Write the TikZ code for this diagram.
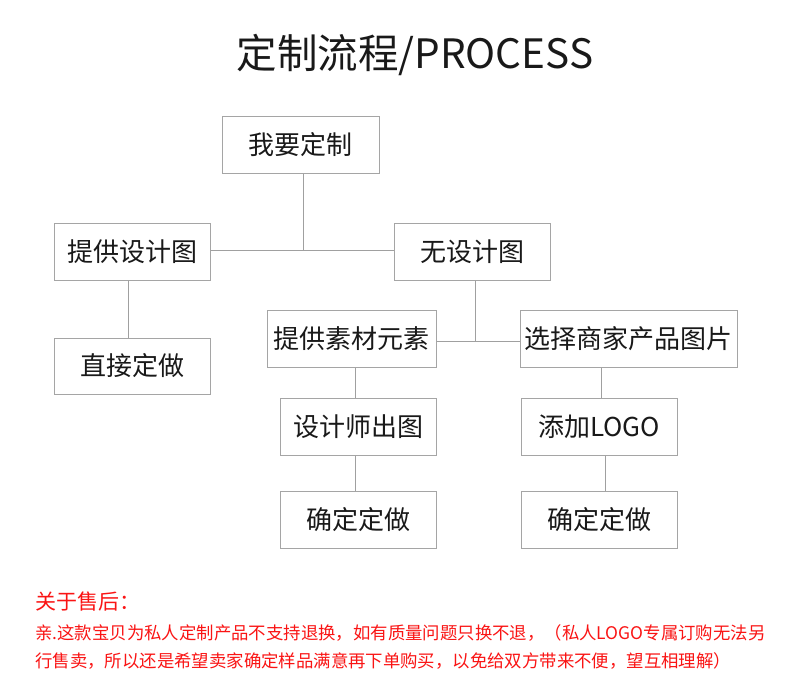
\documentclass[tikz,border=0pt]{standalone}
\usepackage{fontspec}
\newfontfamily\cjk{Noto Sans CJK SC}
\definecolor{boxgray}{RGB}{165,165,165}
\definecolor{linegray}{RGB}{160,160,160}
\definecolor{notered}{RGB}{250,20,20}
\tikzset{
  stepbox/.style={draw=boxgray, line width=1pt, inner sep=0pt, minimum height=57pt,
    minimum width=156pt, font=\cjk\fontsize{26}{30}\selectfont, text=black!90},
  link/.style={draw=linegray, line width=1pt},
  notetext/.style={anchor=west, inner sep=0pt, text=notered}
}
\begin{document}
\begin{tikzpicture}[x=1pt,y=-1pt]
\useasboundingbox[fill=white] (0,0) rectangle (790,688);
% title
\node[inner sep=0pt, font=\cjk\fontsize{40.5}{44}\selectfont, text=black!90] (title) at (415,55) {定制流程/PROCESS};
% boxes
\node[stepbox, minimum width=157pt] (want) at (300.5,144.5) {我要定制};
\node[stepbox] (provide) at (132,251.5) {提供设计图};
\node[stepbox] (none) at (472,251.5) {无设计图};
\node[stepbox, minimum height=56pt] (direct) at (132,366) {直接定做};
\node[stepbox, minimum width=169pt] (material) at (351.5,338.5) {提供素材元素};
\node[stepbox, minimum width=217pt] (choose) at (628.5,338.5) {选择商家产品图片};
\node[stepbox] (designer) at (358,426.5) {设计师出图};
\node[stepbox] (logo) at (599,426.5) {添加LOGO};
\node[stepbox] (confirmL) at (358,519.5) {确定定做};
\node[stepbox] (confirmR) at (599,519.5) {确定定做};
% junctions
\coordinate (j1) at (303,250);
\coordinate (j2) at (475,341);
\coordinate (v1) at (128,0);
\coordinate (v2) at (355.5,0);
\coordinate (v3) at (601,0);
\coordinate (v4) at (605,0);
% connectors
\draw[link] (want.south -| j1) -- (j1);
\draw[link] (provide.east |- j1) -- (none.west |- j1);
\draw[link] (provide.south -| v1) -- (direct.north -| v1);
\draw[link] (none.south -| j2) -- (j2);
\draw[link] (material.east |- j2) -- (choose.west |- j2);
\draw[link] (material.south -| v2) -- (designer.north -| v2);
\draw[link] (designer.south -| v2) -- (confirmL.north -| v2);
\draw[link] (choose.south -| v3) -- (logo.north -| v3);
\draw[link] (logo.south -| v4) -- (confirmR.north -| v4);
% after-sales note
\node[notetext, font=\cjk\fontsize{21}{24}\selectfont] (notehead) at (35,602) {关于售后：};
\node[notetext, font=\cjk\fontsize{17.4}{20}\selectfont] (note1) at (35,633) {亲.这款宝贝为私人定制产品不支持退换，如有质量问题只换不退，（私人LOGO专属订购无法另};
\node[notetext, font=\cjk\fontsize{17.4}{20}\selectfont] (note2) at (35,661) {行售卖，所以还是希望卖家确定样品满意再下单购买，以免给双方带来不便，望互相理解）};
\end{tikzpicture}
\end{document}
